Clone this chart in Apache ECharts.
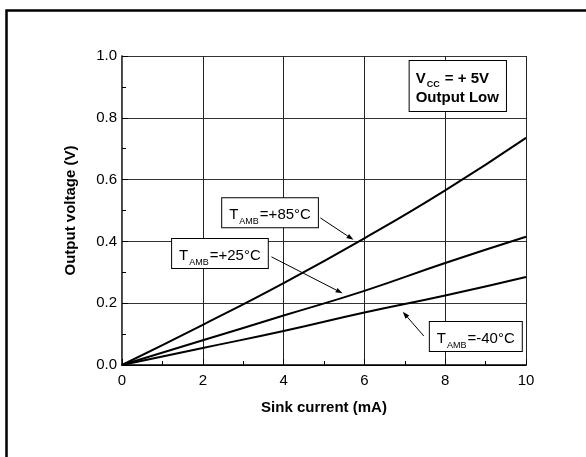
<!DOCTYPE html>
<html><head><meta charset="utf-8">
<script src="https://cdn.jsdelivr.net/npm/echarts@6/dist/echarts.min.js"></script>
<style>html,body{margin:0;padding:0;background:#fff}#c{width:586px;height:457px}</style>
</head><body><div id="c"></div>
<script>
const current = [0, 2, 4, 6, 8, 10];
const v85 = [0, 0.13, 0.265, 0.41, 0.565, 0.735];
const v25 = [0, 0.08, 0.16, 0.24, 0.33, 0.415];
const vm40 = [0, 0.055, 0.11, 0.17, 0.225, 0.285];
const xTicks = [0, 2, 4, 6, 8, 10];
const yTicks = [0.0, 0.2, 0.4, 0.6, 0.8, 1.0];

const FONT = 'Liberation Sans';
const chart = echarts.init(document.getElementById('c'), null, {renderer: 'canvas'});
const pair = (xs, ys) => xs.map((x, i) => [x, ys[i]]);
const lineSeries = (name, ys) => ({
  name, type: 'line', data: pair(current, ys), symbol: 'none', smooth: true,
  lineStyle: {color: '#000', width: 2}, z: 5
});
const tickStyle = {fontFamily: FONT, fontSize: 15, color: '#000'};
chart.setOption({
  animation: false,
  backgroundColor: '#fff',
  grid: {left: 122, right: 60, top: 56, bottom: 92},
  xAxis: [{
    type: 'value', min: xTicks[0], max: xTicks[xTicks.length - 1], interval: 2,
    name: 'Sink current (mA)', nameLocation: 'middle', nameGap: 35,
    nameTextStyle: {fontFamily: FONT, fontSize: 15, fontWeight: 'bold', color: '#000'},
    axisLine: {show: true, lineStyle: {color: '#000', width: 1.5}},
    axisTick: {show: true, inside: true, length: 6, lineStyle: {color: '#000'}},
    minorTick: {show: true, splitNumber: 2, length: 4, lineStyle: {color: '#000'}},
    axisLabel: Object.assign({margin: 8}, tickStyle),
    splitLine: {show: true, lineStyle: {color: '#222', width: 1}}
  }, {
    type: 'value', position: 'top', min: 0, max: 10, interval: 2,
    axisLine: {show: true, lineStyle: {color: '#000', width: 1}},
    axisTick: {show: false}, axisLabel: {show: false}, splitLine: {show: false}
  }],
  yAxis: [{
    type: 'value', min: yTicks[0], max: yTicks[yTicks.length - 1], interval: 0.2,
    name: 'Output voltage (V)', nameLocation: 'middle', nameGap: 44,
    nameTextStyle: {fontFamily: FONT, fontSize: 15, fontWeight: 'bold', color: '#000'},
    axisLine: {show: true, lineStyle: {color: '#000', width: 1.5}},
    axisTick: {show: true, inside: true, length: 6, lineStyle: {color: '#000'}},
    minorTick: {show: true, splitNumber: 2, length: 4, lineStyle: {color: '#000'}},
    axisLabel: Object.assign({margin: 5, formatter: v => v.toFixed(1)}, tickStyle),
    splitLine: {show: true, lineStyle: {color: '#333', width: 1}}
  }, {
    type: 'value', position: 'right', min: 0, max: 1, interval: 0.2,
    axisLine: {show: true, lineStyle: {color: '#555', width: 1}},
    axisTick: {show: false}, axisLabel: {show: false}, splitLine: {show: false}
  }],
  series: [
    lineSeries('+85°C', v85),
    lineSeries('+25°C', v25),
    lineSeries('-40°C', vm40)
  ]
});

// annotations in data coordinates
const labels = [
  {pos: [2.48, 0.540], txt: '{t|T}{s|AMB}{t|=+85°C}'},
  {pos: [1.24, 0.408], txt: '{t|T}{s|AMB}{t|=+25°C}'},
  {pos: [7.62, 0.139], txt: '{t|T}{s|AMB}{t|=-40°C}'}
];
const arrows = [
  {from: [4.91, 0.476], to: [5.73, 0.405]},
  {from: [3.70, 0.350], to: [5.46, 0.232]},
  {from: [7.47, 0.094], to: [6.95, 0.172]}
];
const px = p => chart.convertToPixel({xAxisIndex: 0, yAxisIndex: 0}, p);
const rich = {
  t: {fontFamily: FONT, fontSize: 15, color: '#000', lineHeight: 20, verticalAlign: 'bottom'},
  s: {fontFamily: FONT, fontSize: 9, color: '#000', lineHeight: 20, verticalAlign: 'bottom', padding: [0, 1, -4, 1]}
};
const g = [];
g.push({type: 'rect', left: 4, top: 8, shape: {width: 620, height: 520},
  style: {fill: 'none', stroke: '#000', lineWidth: 2.5}, silent: true, z: 100});
labels.forEach(l => {
  const p = px(l.pos);
  g.push({type: 'text', x: p[0], y: p[1], z: 50,
    style: {text: l.txt, rich, backgroundColor: '#fff', borderColor: '#000', borderWidth: 1,
      padding: [4, 7, 5, 7]}});
});
arrows.forEach(a => {
  const p1 = px(a.from), p2 = px(a.to);
  const ang = Math.atan2(p2[1] - p1[1], p2[0] - p1[0]);
  const L = 7, W = 2.5;
  const bx = p2[0] - L * Math.cos(ang), by = p2[1] - L * Math.sin(ang);
  g.push({type: 'line', z: 50, shape: {x1: p1[0], y1: p1[1], x2: bx, y2: by},
    style: {stroke: '#000', lineWidth: 1}});
  g.push({type: 'polygon', z: 50, shape: {points: [p2,
    [bx + W * Math.sin(ang), by - W * Math.cos(ang)],
    [bx - W * Math.sin(ang), by + W * Math.cos(ang)]]}, style: {fill: '#000'}});
});
const vp = px([7.12, 0.984]);
g.push({type: 'text', x: vp[0], y: vp[1], z: 50,
  style: {
    text: '{b|V}{bs|CC}{b| = + 5V}\n{b|Output Low}',
    rich: {
      b: {fontFamily: FONT, fontSize: 15, fontWeight: 'bold', color: '#000', lineHeight: 19, verticalAlign: 'bottom'},
      bs: {fontFamily: FONT, fontSize: 9, fontWeight: 'bold', color: '#000', lineHeight: 19, verticalAlign: 'bottom', padding: [0, 1, -3, 1]}
    },
    backgroundColor: '#fff', borderColor: '#000', borderWidth: 1, padding: [6, 7, 6, 6]
  }});
chart.setOption({graphic: g});
</script>
</body></html>
